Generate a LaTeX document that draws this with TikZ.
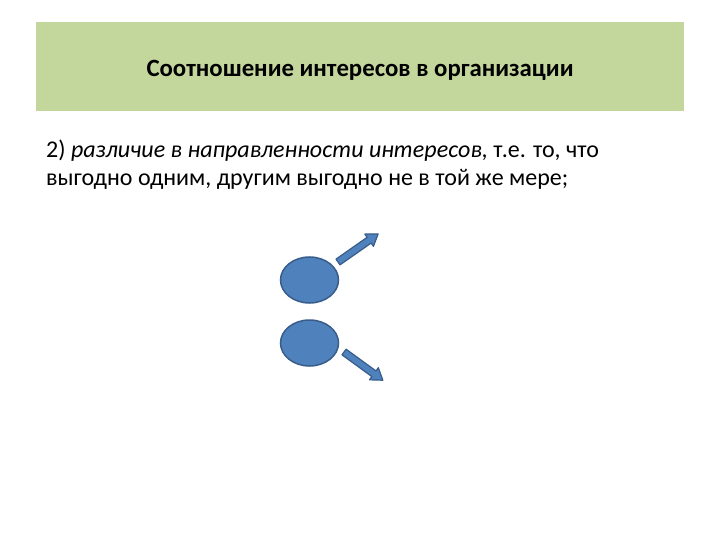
\documentclass[tikz,border=0pt]{standalone}
\usepackage{fontspec}
\setmainfont{Carlito}
\definecolor{hdrgreen}{HTML}{C3D69B}
\definecolor{ballblue}{HTML}{4F81BD}
\definecolor{balledge}{HTML}{385D8A}
\tikzset{
  ball/.style={ellipse, draw=balledge, fill=ballblue, line width=1.5pt, minimum width=58pt, minimum height=46pt, inner sep=0pt},
  blockarrow/.style={draw=balledge, fill=ballblue, line width=1.2pt, line join=round},
  bodytext/.style={anchor=base west, inner sep=0pt, font=\fontsize{24}{28}\selectfont}
}
\usetikzlibrary{shapes.geometric}
\begin{document}
\begin{tikzpicture}[x=1pt,y=-1pt]
\useasboundingbox (0,0) rectangle (720,540);
\fill[white] (0,0) rectangle (720,540);
\node[fill=hdrgreen, minimum width=648pt, minimum height=89pt, inner sep=0pt, anchor=north west] (hdr) at (36,22) {};
\node[font=\bfseries\fontsize{24.8}{28}\selectfont] (title) at (360,70) {Соотношение интересов в организации};
\node[bodytext] (l1) at (46,158) {2) \textit{различие в направленности интересов,} т.е. то, что};
\node[bodytext] (l2) at (46,186) {выгодно одним, другим выгодно не в той же мере;};
\node[ball] (b1) at (309.5,280) {};
\node[ball] (b2) at (309.5,343) {};
\begin{scope}[shift={(338,262)}, rotate=35]
  \draw[blockarrow] (0,-3.5) -- (38,-3.5) -- (38,-7.5) -- (49,0) -- (38,7.5) -- (38,3.5) -- (0,3.5) -- cycle;
\end{scope}
\begin{scope}[shift={(344,352)}, rotate=-36]
  \draw[blockarrow] (0,-3.5) -- (37,-3.5) -- (37,-7.5) -- (48,0) -- (37,7.5) -- (37,3.5) -- (0,3.5) -- cycle;
\end{scope}
\end{tikzpicture}
\end{document}
